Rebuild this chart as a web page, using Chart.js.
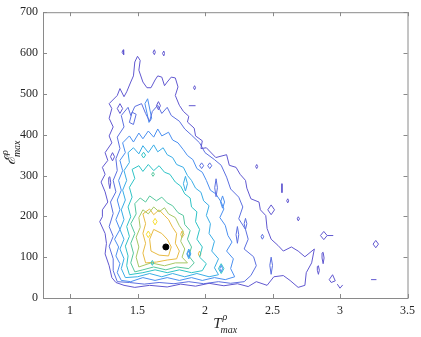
<!DOCTYPE html>
<html><head><meta charset="utf-8">
<script src="https://cdn.jsdelivr.net/npm/chart.js@4/dist/chart.umd.min.js"></script>
<style>html,body{margin:0;padding:0;background:#fff}canvas{display:block}</style>
</head><body>
<canvas id="c" width="421" height="337"></canvas>
<script>
// ---- tick labels ----
const xTicks = [1, 1.5, 2, 2.5, 3, 3.5];
const yTicks = [0, 100, 200, 300, 400, 500, 600, 700];
// ---- contour level colours (outer -> inner) ----
const levelColors = ['#6158d0', '#5c70e0', '#4a8ff0', '#3aade6', '#2fc3c6', '#56c79d', '#a6c866', '#e8bb44', '#f7dd30'];

// ---- contour lines, [T, E] pairs ----
const level1Main = [[1.34,38],[1.31,50],[1.29,79],[1.26,108],[1.27,134],[1.26,158],[1.22,187],[1.24,199],[1.24,216],[1.28,235],[1.26,260],[1.23,284],[1.26,303],[1.24,320],[1.28,337],[1.26,356],[1.31,380],[1.29,397],[1.32,419],[1.29,440],[1.31,464],[1.29,476],[1.35,496],[1.37,513],[1.40,493],[1.42,505],[1.45,529],[1.47,544],[1.48,578],[1.50,592],[1.52,582],[1.51,558],[1.54,529],[1.57,515],[1.60,515],[1.63,534],[1.65,544],[1.68,541],[1.70,520],[1.72,529],[1.75,541],[1.78,539],[1.80,517],[1.78,496],[1.81,472],[1.84,457],[1.88,445],[1.87,431],[1.92,416],[1.93,397],[1.98,385],[1.97,366],[2.01,368],[2.08,344],[2.16,351],[2.18,325],[2.23,320],[2.26,303],[2.30,288],[2.31,269],[2.34,243],[2.40,235],[2.41,216],[2.45,202],[2.46,170],[2.49,144],[2.54,129],[2.58,115],[2.64,125],[2.69,115],[2.74,101],[2.81,120],[2.79,86],[2.75,62],[2.74,31],[2.69,26],[2.63,43],[2.58,55],[2.51,52],[2.46,31],[2.38,40],[2.32,28],[2.24,35],[2.14,30],[2.03,36],[1.93,29],[1.82,34],[1.72,27],[1.59,31],[1.48,26],[1.40,31]];
const level1Loops = [
 [[1.385,602],[1.395,608],[1.40,602],[1.395,596]],
 [[1.615,602],[1.625,608],[1.632,602],[1.625,596]],
 [[1.685,599],[1.695,605],[1.70,599],[1.695,593]],
 [[1.915,515],[1.923,520],[1.93,515],[1.923,510]],
 [[2.375,322],[2.383,327],[2.39,322],[2.383,317]],
 [[2.605,238],[2.613,243],[2.62,238],[2.613,233]],
 [[2.465,216],[2.49,228],[2.515,216],[2.49,204]],
 [[2.683,194],[2.691,199],[2.70,194],[2.691,189]],
 [[2.855,153],[2.88,163],[2.905,153],[2.88,143]],
 [[2.867,110],[2.875,112],[2.882,98],[2.875,84],[2.867,98]],
 [[2.832,77],[2.84,79],[2.847,68],[2.84,58],[2.832,68]],
 [[2.92,45],[2.945,57],[2.965,42],[2.935,38]],
 [[3.245,132],[3.265,141],[3.285,132],[3.265,123]],
 [[1.30,346],[1.315,356],[1.33,346],[1.315,336]],
 [[1.287,295],[1.295,297],[1.302,282],[1.295,268],[1.287,282]],
 [[1.35,464],[1.37,476],[1.39,464],[1.37,452]],
 [[1.64,471],[1.655,481],[1.67,471],[1.655,461]]
];
const level1Open = [
 [[1.88,471],[1.93,471]],
 [[2.57,280],[2.57,258]],
 [[2.905,153],[2.95,153]],
 [[2.98,34],[3.0,24],[3.02,32]],
 [[3.23,45],[3.27,45]]
];
const level2Main = [[1.35,40],[1.32,67],[1.32,96],[1.29,127],[1.32,151],[1.29,175],[1.32,207],[1.30,235],[1.34,260],[1.32,288],[1.35,312],[1.34,341],[1.37,366],[1.35,394],[1.40,419],[1.38,447],[1.43,467],[1.45,447],[1.48,469],[1.53,476],[1.56,452],[1.59,433],[1.61,457],[1.65,472],[1.68,452],[1.72,467],[1.75,447],[1.81,433],[1.85,414],[1.90,399],[1.96,380],[2.00,356],[2.07,339],[2.12,325],[2.16,296],[2.19,267],[2.25,247],[2.28,223],[2.25,194],[2.30,168],[2.32,144],[2.29,120],[2.36,101],[2.38,79],[2.34,55],[2.29,40],[2.19,36],[2.10,40],[1.99,35],[1.88,40],[1.77,35],[1.66,38],[1.55,34],[1.44,38]];
const level2Loops = [
 [[1.96,324],[1.975,331],[1.99,324],[1.975,317]],
 [[2.02,324],[2.035,331],[2.05,324],[2.035,317]],
 [[2.082,292],[2.092,270],[2.082,248],[2.072,270]],
 [[2.49,100],[2.50,80],[2.49,58],[2.48,80]],
 [[2.30,195],[2.31,182],[2.30,168],[2.29,182]],
 [[2.415,150],[2.425,156],[2.435,150],[2.425,144]],
 [[2.24,175],[2.25,155],[2.24,134],[2.23,155]],
 [[1.44,430],[1.46,455],[1.49,450],[1.47,425]]
];
const level3Main = [[1.38,43],[1.35,62],[1.37,84],[1.34,103],[1.36,125],[1.33,144],[1.37,168],[1.34,192],[1.37,216],[1.35,240],[1.38,264],[1.36,288],[1.39,312],[1.37,337],[1.41,356],[1.39,380],[1.44,397],[1.47,382],[1.51,404],[1.54,390],[1.58,409],[1.62,394],[1.65,414],[1.68,397],[1.73,406],[1.76,387],[1.80,380],[1.84,363],[1.87,349],[1.91,339],[1.94,317],[1.98,308],[2.01,288],[2.04,264],[2.08,255],[2.12,235],[2.14,218],[2.11,197],[2.15,178],[2.17,153],[2.20,137],[2.16,115],[2.21,96],[2.19,72],[2.22,52],[2.15,45],[2.07,50],[1.98,43],[1.90,50],[1.81,43],[1.72,50],[1.63,43],[1.54,50],[1.45,40]];
const level3Loops = [
 [[1.87,108],[1.88,116],[1.89,108],[1.88,100]],
 [[2.11,72],[2.12,80],[2.13,72],[2.12,64]],
 [[2.13,250],[2.145,235],[2.13,220],[2.115,235]],
 [[1.555,476],[1.575,488],[1.605,440],[1.585,430]]
];
const level4Main = [[1.41,50],[1.38,72],[1.40,96],[1.37,120],[1.40,144],[1.37,168],[1.40,192],[1.38,216],[1.41,240],[1.39,264],[1.42,288],[1.40,312],[1.44,332],[1.43,356],[1.47,368],[1.51,353],[1.54,373],[1.58,356],[1.62,375],[1.65,358],[1.69,368],[1.72,351],[1.76,344],[1.79,327],[1.84,320],[1.87,300],[1.90,288],[1.93,269],[1.97,259],[1.99,238],[2.03,226],[2.01,202],[2.04,182],[2.03,158],[2.07,139],[2.05,115],[2.10,96],[2.07,74],[2.10,57],[2.03,52],[1.94,60],[1.85,52],[1.76,60],[1.68,52],[1.59,60],[1.50,52]];
const level4Loops = [
 [[1.855,298],[1.87,280],[1.855,262],[1.84,280]],
 [[1.865,108],[1.88,120],[1.895,108],[1.88,96]]
];
const level5Main = [[1.44,57],[1.42,79],[1.43,103],[1.41,127],[1.44,151],[1.42,175],[1.45,199],[1.43,223],[1.46,247],[1.44,271],[1.48,293],[1.46,315],[1.51,324],[1.54,310],[1.58,327],[1.62,312],[1.66,324],[1.70,308],[1.74,303],[1.78,284],[1.82,274],[1.85,255],[1.89,245],[1.90,223],[1.94,211],[1.93,187],[1.96,168],[1.94,144],[1.98,125],[1.96,100],[2.01,84],[1.98,67],[1.90,62],[1.81,69],[1.72,62],[1.63,69],[1.54,62]];
const level5Loops = [
 [[2.10,72],[2.12,84],[2.14,72],[2.12,60]],
 [[1.60,86],[1.61,92],[1.62,86],[1.61,80]],
 [[1.53,350],[1.545,357],[1.56,350],[1.545,343]]
];
const level6Main = [[1.48,64],[1.45,86],[1.47,110],[1.45,134],[1.48,158],[1.45,182],[1.49,206],[1.48,231],[1.52,245],[1.56,235],[1.59,250],[1.64,238],[1.68,247],[1.72,233],[1.76,226],[1.80,209],[1.84,202],[1.85,180],[1.89,165],[1.87,144],[1.90,125],[1.88,103],[1.92,86],[1.88,72],[1.79,76],[1.71,69],[1.62,76],[1.54,69]];
const level6Loops = [
 [[1.605,303],[1.615,308],[1.625,303],[1.615,298]]
];
const level7Main = [[1.51,76],[1.49,100],[1.51,125],[1.49,149],[1.52,173],[1.51,197],[1.54,216],[1.58,206],[1.62,223],[1.66,211],[1.70,221],[1.73,206],[1.78,197],[1.81,177],[1.84,163],[1.82,139],[1.85,120],[1.83,100],[1.87,86],[1.78,86],[1.70,79],[1.60,86]];
const level8Main = [[1.56,86],[1.54,110],[1.56,134],[1.54,158],[1.56,182],[1.54,206],[1.59,218],[1.62,204],[1.66,216],[1.70,202],[1.73,192],[1.76,173],[1.79,158],[1.78,134],[1.81,115],[1.79,96],[1.72,93],[1.64,88]];
const level8Loops = [
 [[1.60,115],[1.59,144],[1.62,168],[1.68,158],[1.72,144],[1.75,125],[1.73,103],[1.66,105]],
 [[1.82,156],[1.83,164],[1.845,156],[1.83,148]],
 [[1.95,108],[1.96,115],[1.97,108],[1.96,101]]
];
const level9Loops = [
 [[1.565,156],[1.58,164],[1.595,156],[1.58,148]],
 [[1.615,187],[1.63,195],[1.645,187],[1.63,179]]
];
// ---- peak marker ----
const peakPoint = [[1.71, 125]];

// ---- build datasets ----
const groups = [
 {lvl:0, closed:[level1Main, ...level1Loops], open: level1Open},
 {lvl:1, closed:[level2Main, ...level2Loops], open: []},
 {lvl:2, closed:[level3Main, ...level3Loops], open: []},
 {lvl:3, closed:[level4Main, ...level4Loops], open: []},
 {lvl:4, closed:[level5Main, ...level5Loops], open: []},
 {lvl:5, closed:[level6Main, ...level6Loops], open: []},
 {lvl:6, closed:[level7Main], open: []},
 {lvl:7, closed:[level8Main, ...level8Loops], open: []},
 {lvl:8, closed:level9Loops, open: []}
];
const datasets = [];
function addLine(pts, color, close) {
  const d = pts.map(p => ({x: p[0], y: p[1]}));
  if (close) d.push({x: pts[0][0], y: pts[0][1]});
  datasets.push({type:'scatter', data:d, showLine:true, borderColor:color, borderWidth:1,
    pointRadius:0, pointHoverRadius:0, fill:false, tension:0});
}
groups.forEach(g => {
  g.closed.forEach(p => addLine(p, levelColors[g.lvl], true));
  g.open.forEach(p => addLine(p, levelColors[g.lvl], false));
});
datasets.push({type:'scatter', data: peakPoint.map(p => ({x:p[0], y:p[1]})),
  pointRadius:3, backgroundColor:'#000', borderColor:'#000', showLine:false});

const serif = '"Liberation Serif", "DejaVu Serif", serif';

const frame = {
  id: 'frame',
  afterDraw(chart) {
    const {ctx, chartArea: a, scales: {x, y}} = chart;
    ctx.save();
    ctx.strokeStyle = '#8a8a8a';
    ctx.lineWidth = 1;
    ctx.strokeRect(a.left + 0.5, a.top + 0.5, a.right - a.left, a.bottom - a.top);
    ctx.beginPath();
    xTicks.forEach(v => {
      const px = Math.round(x.getPixelForValue(v)) + 0.5;
      ctx.moveTo(px, a.bottom); ctx.lineTo(px, a.bottom - 4);
      ctx.moveTo(px, a.top); ctx.lineTo(px, a.top + 4);
    });
    yTicks.forEach(v => {
      const py = Math.round(y.getPixelForValue(v)) + 0.5;
      ctx.moveTo(a.left, py); ctx.lineTo(a.left + 4, py);
      ctx.moveTo(a.right, py); ctx.lineTo(a.right - 4, py);
    });
    ctx.stroke();
    // axis titles
    ctx.fillStyle = '#262626';
    ctx.textBaseline = 'alphabetic';
    ctx.textAlign = 'left';
    const cx = (a.left + a.right) / 2;
    ctx.font = 'italic 15px ' + serif;
    const tw = ctx.measureText('T').width;
    let x0 = cx - 12;
    ctx.fillText('T', x0, 328);
    ctx.font = 'italic 10px ' + serif;
    ctx.fillText('ρ', x0 + tw + 1, 320);
    ctx.fillText('max', x0 + tw - 1, 333);
    // y title
    ctx.translate(15, (a.top + a.bottom) / 2 - 4);
    ctx.rotate(-Math.PI / 2);
    ctx.font = 'italic 15px ' + serif;
    const ew = ctx.measureText('ℰ').width;
    const y0 = -14;
    ctx.fillText('ℰ', y0, 0);
    ctx.font = 'italic 10px ' + serif;
    ctx.fillText('ρ', y0 + ew + 1, -7);
    ctx.fillText('max', y0 + ew - 1, 5);
    ctx.restore();
  }
};

new Chart(document.getElementById('c'), {
  type: 'scatter',
  data: { datasets },
  options: {
    responsive: false,
    devicePixelRatio: 1,
    animation: false,
    layout: { padding: { top: 7, right: 11, left: 0, bottom: 0 } },
    plugins: { legend: { display: false }, tooltip: { enabled: false } },
    scales: {
      x: {
        type: 'linear', min: 0.8, max: 3.5,
        grid: { display: false, drawTicks: false },
        border: { display: false },
        ticks: { font: { family: serif, size: 12 }, color: '#262626', padding: 6, maxRotation: 0,
                 callback: v => String(v) },
        afterBuildTicks: s => { s.ticks = xTicks.map(v => ({ value: v })); },
        afterFit: s => { s.height = 39; }
      },
      y: {
        type: 'linear', min: 0, max: 700,
        grid: { display: false, drawTicks: false },
        border: { display: false },
        ticks: { font: { family: serif, size: 12 }, color: '#262626', padding: 5,
                 callback: v => String(v) },
        afterBuildTicks: s => { s.ticks = yTicks.map(v => ({ value: v })); },
        afterFit: s => { s.width = 43; }
      }
    }
  },
  plugins: [frame]
});
</script>
</body></html>
